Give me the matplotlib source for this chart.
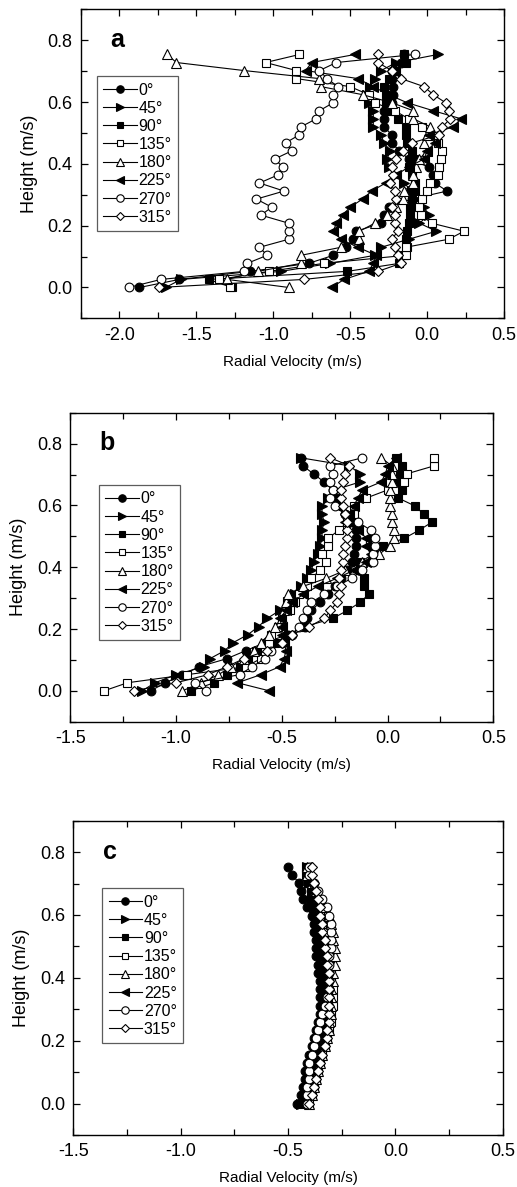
import matplotlib
matplotlib.use("Agg")
import matplotlib.pyplot as plt
from matplotlib.ticker import MultipleLocator, FuncFormatter

plt.rcParams['font.family'] = ['Liberation Sans', 'DejaVu Sans']

heights = [0.000, 0.026, 0.052, 0.078, 0.104, 0.130, 0.156, 0.182, 0.208, 0.234,
           0.260, 0.286, 0.312, 0.338, 0.364, 0.390, 0.416, 0.442, 0.468, 0.494,
           0.520, 0.546, 0.572, 0.598, 0.624, 0.650, 0.676, 0.702, 0.728, 0.754]

labels = ['0°', '45°', '90°', '135°', '180°', '225°', '270°', '315°']

# ---- panel a ----
a_0 = [-1.87, -1.61, -1.15, -0.77, -0.61, -0.53, -0.48, -0.46, -0.30, -0.28,
       -0.25, -0.10, 0.13, 0.05, 0.04, 0.01, -0.12, -0.18, -0.23, -0.23,
       -0.28, -0.28, -0.28, -0.23, -0.22, -0.22, -0.23, -0.23, -0.17, -0.15]
a_45 = [-1.70, -1.60, -0.95, -0.63, -0.34, -0.30, -0.12, 0.06, -0.05, 0.01,
        -0.02, -0.08, -0.10, -0.15, -0.20, -0.25, -0.26, -0.24, -0.28, -0.30,
        -0.35, -0.35, -0.35, -0.38, -0.39, -0.37, -0.34, -0.30, -0.20, 0.07]
a_90 = [-1.27, -1.42, -0.52, -0.18, -0.15, -0.13, -0.14, -0.13, -0.12, -0.11,
        -0.11, -0.10, -0.08, -0.08, -0.10, -0.12, -0.08, -0.10, -0.13, -0.14,
        -0.14, -0.19, -0.25, -0.27, -0.27, -0.28, -0.25, -0.20, -0.14, -0.15]
a_135 = [-1.28, -1.35, -1.03, -0.67, -0.14, -0.14, 0.14, 0.24, 0.03, -0.04,
         -0.05, -0.03, 0.00, 0.02, 0.07, 0.08, 0.09, 0.10, 0.07, 0.02,
         -0.03, -0.12, -0.21, -0.34, -0.38, -0.50, -0.85, -0.85, -1.05, -0.83]
a_180 = [-0.90, -1.30, -1.10, -0.82, -0.82, -0.56, -0.44, -0.44, -0.34, -0.26,
         -0.20, -0.16, -0.15, -0.09, -0.09, -0.07, -0.05, 0.00, -0.02, 0.00,
         0.02, -0.09, -0.09, -0.23, -0.42, -0.69, -0.70, -1.19, -1.63, -1.69]
a_225 = [-0.62, -0.54, -0.38, -0.35, -0.33, -0.45, -0.56, -0.61, -0.59, -0.55,
         -0.50, -0.42, -0.36, -0.27, -0.20, -0.12, -0.02, 0.00, 0.05, 0.01,
         0.17, 0.22, 0.04, -0.13, -0.25, -0.35, -0.45, -0.79, -0.75, -0.47]
a_270 = [-1.94, -1.73, -1.19, -1.17, -1.04, -1.09, -0.90, -0.90, -0.90, -1.08,
         -1.01, -1.11, -0.93, -1.09, -0.97, -0.94, -0.99, -0.88, -0.92, -0.83,
         -0.82, -0.72, -0.70, -0.61, -0.61, -0.58, -0.65, -0.70, -0.59, -0.08]
a_315 = [-1.74, -0.80, -0.32, -0.17, -0.19, -0.21, -0.23, -0.19, -0.21, -0.21,
         -0.23, -0.20, -0.21, -0.24, -0.22, -0.23, -0.20, -0.16, -0.10, 0.08,
         0.10, 0.15, 0.14, 0.12, 0.04, -0.02, -0.17, -0.23, -0.32, -0.32]

# ---- panel b ----
b_0 = [-1.12, -1.05, -0.97, -0.89, -0.76, -0.67, -0.58, -0.47, -0.39, -0.38,
       -0.36, -0.32, -0.28, -0.25, -0.22, -0.19, -0.17, -0.16, -0.15, -0.15,
       -0.15, -0.17, -0.20, -0.22, -0.24, -0.26, -0.30, -0.35, -0.40, -0.41]
b_45 = [-1.16, -1.10, -1.00, -0.87, -0.84, -0.77, -0.73, -0.66, -0.61, -0.57,
        -0.51, -0.47, -0.44, -0.41, -0.38, -0.36, -0.35, -0.33, -0.32, -0.31,
        -0.31, -0.30, -0.31, -0.31, -0.28, -0.25, -0.13, -0.13, -0.18, -0.41]
b_90 = [-0.93, -0.82, -0.76, -0.70, -0.66, -0.62, -0.53, -0.47, -0.39, -0.26,
        -0.19, -0.13, -0.09, -0.11, -0.11, -0.13, -0.13, -0.07, -0.02, 0.08,
        0.15, 0.21, 0.17, 0.13, 0.05, 0.07, 0.04, 0.06, 0.07, 0.04]
b_135 = [-1.34, -1.23, -0.95, -0.67, -0.60, -0.58, -0.56, -0.55, -0.52, -0.50,
         -0.46, -0.44, -0.42, -0.38, -0.36, -0.32, -0.29, -0.31, -0.28, -0.28,
         -0.23, -0.19, -0.16, -0.16, -0.10, 0.00, 0.08, 0.09, 0.22, 0.22]
b_180 = [-0.97, -0.88, -0.80, -0.74, -0.68, -0.63, -0.60, -0.56, -0.53, -0.50,
         -0.49, -0.48, -0.47, -0.40, -0.29, -0.20, -0.12, -0.04, 0.01, 0.03,
         0.03, 0.02, 0.02, 0.01, 0.01, 0.01, 0.02, 0.02, 0.02, -0.03]
b_225 = [-0.56, -0.71, -0.60, -0.51, -0.49, -0.48, -0.49, -0.50, -0.50, -0.51,
         -0.48, -0.45, -0.40, -0.33, -0.24, -0.16, -0.10, -0.08, -0.10, -0.10,
         -0.14, -0.20, -0.18, -0.16, -0.14, -0.12, -0.03, -0.01, 0.00, 0.04]
b_270 = [-0.86, -0.91, -0.70, -0.64, -0.58, -0.55, -0.50, -0.45, -0.42, -0.40,
         -0.38, -0.36, -0.30, -0.24, -0.17, -0.12, -0.07, -0.07, -0.06, -0.06,
         -0.08, -0.14, -0.20, -0.25, -0.27, -0.26, -0.27, -0.26, -0.27, -0.12]
b_315 = [-1.20, -1.00, -0.85, -0.76, -0.68, -0.57, -0.50, -0.45, -0.37, -0.30,
         -0.27, -0.24, -0.23, -0.22, -0.23, -0.22, -0.21, -0.21, -0.20, -0.19,
         -0.19, -0.19, -0.20, -0.21, -0.22, -0.22, -0.21, -0.20, -0.18, -0.27]

# ---- panel c ----
c_0 = [-0.46, -0.44, -0.43, -0.42, -0.42, -0.41, -0.40, -0.39, -0.38, -0.37,
       -0.36, -0.35, -0.35, -0.35, -0.35, -0.35, -0.36, -0.36, -0.37, -0.37,
       -0.37, -0.38, -0.38, -0.39, -0.41, -0.43, -0.44, -0.45, -0.48, -0.50]
c_45 = [-0.44, -0.42, -0.41, -0.40, -0.39, -0.38, -0.37, -0.36, -0.35, -0.34,
        -0.33, -0.33, -0.32, -0.32, -0.32, -0.33, -0.33, -0.34, -0.34, -0.35,
        -0.35, -0.36, -0.36, -0.37, -0.38, -0.39, -0.39, -0.40, -0.41, -0.41]
c_90 = [-0.43, -0.41, -0.40, -0.39, -0.38, -0.37, -0.36, -0.35, -0.34, -0.33,
        -0.32, -0.31, -0.30, -0.30, -0.31, -0.31, -0.32, -0.33, -0.34, -0.34,
        -0.35, -0.35, -0.36, -0.36, -0.37, -0.38, -0.39, -0.40, -0.40, -0.41]
c_135 = [-0.40, -0.39, -0.38, -0.37, -0.36, -0.35, -0.34, -0.33, -0.32, -0.31,
         -0.30, -0.30, -0.29, -0.29, -0.29, -0.30, -0.30, -0.31, -0.31, -0.32,
         -0.32, -0.33, -0.34, -0.35, -0.36, -0.37, -0.38, -0.39, -0.40, -0.40]
c_180 = [-0.40, -0.39, -0.38, -0.37, -0.36, -0.35, -0.34, -0.33, -0.32, -0.31,
         -0.31, -0.30, -0.30, -0.30, -0.30, -0.29, -0.29, -0.28, -0.28, -0.28,
         -0.29, -0.29, -0.30, -0.31, -0.33, -0.35, -0.37, -0.39, -0.41, -0.41]
c_225 = [-0.42, -0.41, -0.40, -0.39, -0.38, -0.37, -0.36, -0.35, -0.35, -0.34,
         -0.33, -0.33, -0.32, -0.32, -0.32, -0.32, -0.33, -0.33, -0.34, -0.35,
         -0.35, -0.36, -0.37, -0.37, -0.38, -0.39, -0.39, -0.40, -0.41, -0.41]
c_270 = [-0.41, -0.41, -0.41, -0.40, -0.40, -0.40, -0.39, -0.38, -0.37, -0.36,
         -0.35, -0.34, -0.33, -0.32, -0.31, -0.31, -0.31, -0.31, -0.31, -0.30,
         -0.30, -0.30, -0.30, -0.31, -0.32, -0.34, -0.36, -0.38, -0.40, -0.40]
c_315 = [-0.40, -0.39, -0.38, -0.37, -0.36, -0.35, -0.34, -0.33, -0.32, -0.32,
         -0.31, -0.31, -0.31, -0.31, -0.31, -0.31, -0.31, -0.32, -0.32, -0.33,
         -0.33, -0.34, -0.34, -0.35, -0.35, -0.36, -0.37, -0.38, -0.39, -0.39]

panels = [
    ('a', [a_0, a_45, a_90, a_135, a_180, a_225, a_270, a_315], (-2.25, 0.5)),
    ('b', [b_0, b_45, b_90, b_135, b_180, b_225, b_270, b_315], (-1.5, 0.5)),
    ('c', [c_0, c_45, c_90, c_135, c_180, c_225, c_270, c_315], (-1.5, 0.5)),
]

styles = [
    dict(marker='o', mfc='black', ms=6.3),
    dict(marker='>', mfc='black', ms=7),
    dict(marker='s', mfc='black', ms=5.7),
    dict(marker='s', mfc='white', ms=5.7),
    dict(marker='^', mfc='white', ms=7),
    dict(marker='<', mfc='black', ms=7),
    dict(marker='o', mfc='white', ms=6.3),
    dict(marker='D', mfc='white', ms=5.3),
]

ax_rects = [
    [0.1567, 0.7318, 0.8182, 0.2603],
    [0.1360, 0.3920, 0.8182, 0.2603],
    [0.1418, 0.0438, 0.8306, 0.2648],
]
leg_anchor = [(0.038, 0.784), (0.068, 0.766), (0.0675, 0.785)]

fig = plt.figure(figsize=(5.17, 11.87), dpi=100)

for (letter, series, xlim), rect, anc in zip(panels, ax_rects, leg_anchor):
    ax = fig.add_axes(rect)
    for vals, lab, st in zip(series, labels, styles):
        ax.plot(vals, heights, color='black', lw=0.8, mec='black', mew=0.8,
                label=lab, **st)
    ax.set_xlim(*xlim)
    ax.set_ylim(-0.1, 0.9)
    ax.xaxis.set_major_locator(MultipleLocator(0.5))
    ax.xaxis.set_minor_locator(MultipleLocator(0.25))
    ax.yaxis.set_major_locator(MultipleLocator(0.2))
    ax.yaxis.set_minor_locator(MultipleLocator(0.1))
    ax.tick_params(which='both', direction='in', top=True, right=True,
                   width=0.9, labelsize=13, pad=6)
    ax.tick_params(which='major', length=5)
    ax.tick_params(which='minor', length=4)
    ax.xaxis.set_major_formatter(FuncFormatter(lambda v, p: f"{v:.1f}"))
    ax.yaxis.set_major_formatter(FuncFormatter(lambda v, p: f"{v:.1f}"))
    for s in ax.spines.values():
        s.set_linewidth(1.0)
    ax.set_xlabel('Radial Velocity (m/s)', fontsize=11, labelpad=8)
    ax.set_ylabel('Height (m/s)', fontsize=13, labelpad=7)
    ax.text(0.068, 0.878, letter, transform=ax.transAxes, fontsize=18,
            fontweight='bold', va='baseline', ha='left')
    leg = ax.legend(loc='upper left', bbox_to_anchor=anc, borderaxespad=0,
                    fontsize=11.5, frameon=True, fancybox=False,
                    edgecolor='#333333', handlelength=2.1, handletextpad=0.1,
                    labelspacing=0.2, borderpad=0.4, markerscale=0.85)
    leg.get_frame().set_linewidth(0.9)

fig.savefig('out.png', dpi=100)
